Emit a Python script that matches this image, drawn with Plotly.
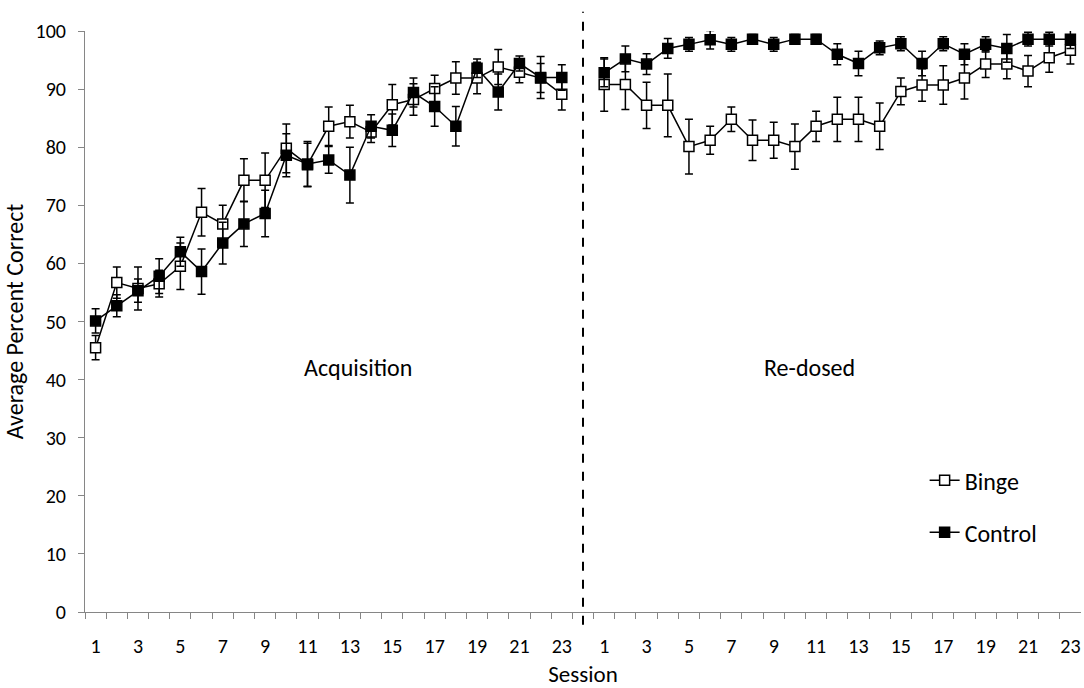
import plotly.graph_objects as go

# Session labels (two phases of 23 sessions, separated by a gap category)
sessions = list(range(1, 24))
phase_names = ["Acquisition", "Re-dosed"]

binge_acq = [45.5, 56.7, 55.7, 56.5, 59.5, 68.8, 66.8, 74.3, 74.3, 79.8, 77.0, 83.6, 84.4, 82.6,
             87.3, 88.2, 90.1, 91.9, 91.9, 93.8, 92.9, 91.9, 89.1]
binge_acq_err = [2.1, 2.7, 3.7, 2.3, 4.0, 4.1, 3.2, 3.7, 4.7, 4.2, 3.7, 3.3, 2.8, 1.8,
                 3.5, 2.7, 2.3, 2.8, 2.7, 3.0, 1.8, 2.5, 2.7]
control_acq = [50.1, 52.7, 55.3, 57.8, 62.0, 58.6, 63.5, 66.8, 68.6, 78.6, 77.1, 77.8, 75.2, 83.6,
               82.9, 89.4, 87.0, 83.6, 93.6, 89.5, 94.4, 92.0, 92.0]
control_acq_err = [2.1, 1.9, 2.0, 3.0, 2.5, 3.9, 3.6, 3.9, 4.0, 3.7, 3.9, 2.3, 4.8, 2.0,
                   2.8, 2.5, 3.4, 3.4, 1.6, 3.1, 1.3, 3.6, 2.2]

binge_re = [90.8, 90.8, 87.2, 87.2, 80.1, 81.2, 84.8, 81.2, 81.2, 80.1, 83.6, 84.8, 84.8, 83.6,
            89.6, 90.7, 90.7, 91.9, 94.3, 94.3, 93.1, 95.4, 96.7]
binge_re_err = [4.6, 4.3, 4.0, 5.4, 4.7, 2.4, 2.1, 3.5, 3.1, 3.9, 2.6, 3.8, 3.8, 4.0,
                2.3, 2.8, 3.3, 3.6, 2.3, 2.5, 2.7, 2.5, 2.4]
control_re = [92.8, 95.2, 94.3, 97.0, 97.7, 98.5, 97.7, 98.6, 97.7, 98.6, 98.6, 96.0, 94.4, 97.1,
              97.8, 94.4, 97.8, 96.0, 97.7, 97.0, 98.6, 98.6, 98.6]
control_re_err = [2.4, 2.2, 1.8, 1.7, 1.2, 1.6, 1.2, 0.8, 1.2, 0.8, 0.8, 1.8, 2.1, 1.2,
                  1.2, 2.1, 1.2, 1.8, 1.3, 2.4, 1.2, 1.2, 1.6]

n = len(sessions)
gap = n + 1
pos_acq = list(range(1, n + 1))
pos_re = list(range(gap + 1, gap + 1 + n))
xpos = pos_acq + [gap] + pos_re

def join(a, b):
    return a + [None] + b

FONT = "Carlito, Lato, Calibri, sans-serif"
AXIS = "#868686"

fig = go.Figure()
series = [
    ("Binge", join(binge_acq, binge_re), join(binge_acq_err, binge_re_err), "white"),
    ("Control", join(control_acq, control_re), join(control_acq_err, control_re_err), "black"),
]
for i, (name, y, err, fill) in enumerate(series):
    fig.add_trace(go.Scatter(
        x=xpos, y=y, name=name, mode="lines+markers", connectgaps=False,
        legendgroup=name,
        line=dict(color="black", width=1.5),
        marker=dict(symbol="square", size=10, color=fill, line=dict(color="black", width=1.5)),
        error_y=dict(type="data", array=err, visible=True, color="black", thickness=1.5, width=4),
    ))

tickvals = [p for p, s in zip(pos_acq, sessions) if s % 2 == 1] + [p for p, s in zip(pos_re, sessions) if s % 2 == 1]
ticktext = [str(s) for s in sessions if s % 2 == 1] * 2
minor_vals = [k + 0.5 for k in range(0, 2 * n + 1)]

fig.add_shape(type="line", xref="x", yref="paper", x0=gap, x1=gap, y0=-0.022, y1=1.033,
              line=dict(color="black", width=2, dash="dash"))

fig.add_annotation(x=13.4, y=42, text=phase_names[0], showarrow=False,
                   font=dict(size=24, color="black", family=FONT))
fig.add_annotation(x=34.7, y=42, text=phase_names[1], showarrow=False,
                   font=dict(size=24, color="black", family=FONT))

fig.update_layout(
    width=1084, height=688,
    margin=dict(l=85, r=3, t=31, b=76),
    plot_bgcolor="white", paper_bgcolor="white",
    font=dict(family=FONT, size=21, color="black"),
    showlegend=True,
    legend=dict(x=0.843, y=0.265, xanchor="left", yanchor="top",
                font=dict(size=24, family=FONT), tracegroupgap=18,
                bgcolor="rgba(0,0,0,0)"),
    xaxis=dict(range=[0.5, 2 * n + 1.5], tickmode="array", tickvals=tickvals, ticktext=ticktext,
               ticks="", showgrid=False, zeroline=False, showline=True, linecolor=AXIS, linewidth=1,
               ticklabelstandoff=16, tickfont=dict(size=20, family=FONT),
               minor=dict(tickmode="array", tickvals=minor_vals, ticks="outside", ticklen=6,
                          tickcolor=AXIS, showgrid=False),
               title=dict(text="Session", font=dict(size=23, family=FONT), standoff=9)),
    yaxis=dict(range=[0, 100], tickmode="array", tickvals=list(range(0, 101, 10)),
               ticks="outside", ticklen=6, tickcolor=AXIS, showgrid=False, zeroline=False,
               showline=True, linecolor=AXIS, linewidth=1, ticklabelstandoff=8,
               tickfont=dict(size=20, family=FONT),
               title=dict(text="Average Percent Correct", font=dict(size=24, family=FONT), standoff=8)),
)

fig.write_html("out.html")
